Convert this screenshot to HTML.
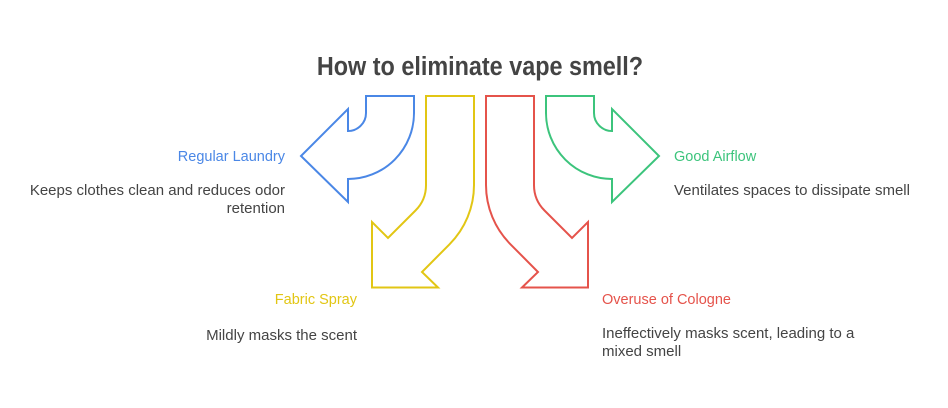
<!DOCTYPE html>
<html>
<head>
<meta charset="utf-8">
<style>
  html, body { margin: 0; padding: 0; background: #ffffff; }
  body { width: 948px; height: 408px; position: relative; overflow: hidden; font-family: "Liberation Sans", Arial, sans-serif; }
  svg { position: absolute; left: 0; top: 0; }
</style>
</head>
<body>
<svg width="948" height="408" viewBox="0 0 948 408" xmlns="http://www.w3.org/2000/svg">
  <text x="480" y="75" text-anchor="middle" font-family="Liberation Sans, Arial, sans-serif" font-weight="bold" font-size="26" fill="#444444" transform="translate(480 0) scale(0.9 1) translate(-480 0)">How to eliminate vape smell?</text>

  <!-- Blue arrow -->
  <path d="M366,96 L414,96 L414,113 A66,66 0 0 1 348,179 L348,202 L301,156 L348,109 L348,131 A18,18 0 0 0 366,113 Z"
        fill="none" stroke="#4a87e6" stroke-width="2" stroke-linejoin="miter"/>
  <!-- Green arrow -->
  <path d="M594,96 L546,96 L546,113 A66,66 0 0 0 612,179 L612,202 L659,156 L612,109 L612,131 A18,18 0 0 1 594,113 Z"
        fill="none" stroke="#3cc47c" stroke-width="2" stroke-linejoin="miter"/>
  <!-- Yellow arrow -->
  <path d="M426,96 L474,96 L474,185 A84,84 0 0 1 449.4,244.4 L422,272 L438,287.5 L372,287.5 L372,222 L388,238 L415.5,210.5 A36,36 0 0 0 426,185 Z"
        fill="none" stroke="#e2c614" stroke-width="2" stroke-linejoin="miter"/>
  <!-- Red arrow -->
  <path d="M534,96 L486,96 L486,185 A84,84 0 0 0 510.6,244.4 L538,272 L522,287.5 L588,287.5 L588,222 L572,238 L544.5,210.5 A36,36 0 0 1 534,185 Z"
        fill="none" stroke="#e5534b" stroke-width="2" stroke-linejoin="miter"/>

  <!-- Labels -->
  <g font-family="Liberation Sans, Arial, sans-serif">
    <text x="285" y="161" text-anchor="end" font-size="14.5" fill="#4a87e6">Regular Laundry</text>
    <text x="285" y="195" text-anchor="end" font-size="15" fill="#444444">Keeps clothes clean and reduces odor</text>
    <text x="285" y="213" text-anchor="end" font-size="15" fill="#444444">retention</text>

    <text x="674" y="161" font-size="14.5" fill="#3cc47c">Good Airflow</text>
    <text x="674" y="195" font-size="15" fill="#444444">Ventilates spaces to dissipate smell</text>

    <text x="357" y="304" text-anchor="end" font-size="14.5" fill="#e2c614">Fabric Spray</text>
    <text x="357" y="340" text-anchor="end" font-size="15" fill="#444444">Mildly masks the scent</text>

    <text x="602" y="304" font-size="14.5" fill="#e5534b">Overuse of Cologne</text>
    <text x="602" y="338" font-size="15" fill="#444444">Ineffectively masks scent, leading to a</text>
    <text x="602" y="356" font-size="15" fill="#444444">mixed smell</text>
  </g>
</svg>
</body>
</html>
